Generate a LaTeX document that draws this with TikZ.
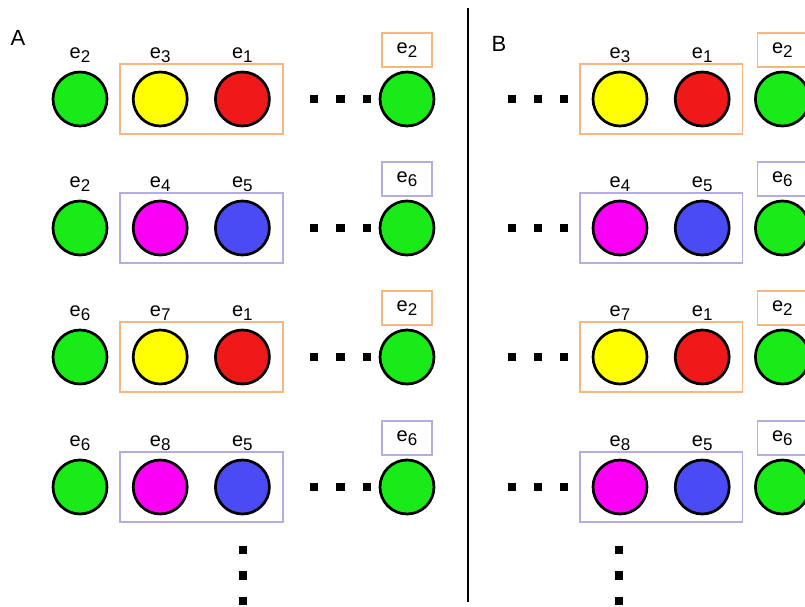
\documentclass[tikz,border=0pt]{standalone}
\usepackage{fontspec}
\setmainfont{Liberation Sans}
\usetikzlibrary{positioning,fit}

\definecolor{grn}{RGB}{25,235,25}
\definecolor{yel}{RGB}{255,255,0}
\definecolor{rd}{RGB}{240,25,25}
\definecolor{mag}{RGB}{250,0,245}
\definecolor{blu}{RGB}{75,75,245}
\definecolor{ora}{RGB}{245,182,128}
\definecolor{lav}{RGB}{182,172,228}
\newcommand{\ename}[1]{e\raisebox{-4pt}{\fontsize{17}{17}\selectfont #1}}

\begin{document}
\begin{tikzpicture}[x=1pt,y=-1pt,
	ball/.style={circle,draw=black,line width=2.7pt,minimum size=54pt,inner sep=0pt},
	lab/.style={anchor=base,inner sep=0pt,font=\fontsize{20}{21}\selectfont},
	tagbox/.style={draw=#1,line width=1.8pt,minimum width=50pt,minimum height=34pt,inner sep=0pt,font=\fontsize{20}{21}\selectfont},
	grp/.style={draw=#1,line width=1.8pt,inner xsep=12pt,inner ysep=7pt},
	sq/.style={fill=black,minimum size=8.5pt,inner sep=0pt},
	panel/.style={inner sep=0pt,font=\fontsize{22}{24}\selectfont}]
\clip (0,0) rectangle (805,607);
\node [panel] (pa) at (18,37.5) {A};
\node [panel] (pb) at (499,44) {B};
\coordinate (top) at (468,8);
\coordinate (bot) at (468,602);
\draw [line width=2pt] (top) -- (bot);

% panel A, row 1
\node [ball,fill=grn] (a10) at (80,99) {};
\node [ball,fill=yel,right=23.5pt of a10] (a11) {};
\node [ball,fill=rd,right=25.5pt of a11] (a12) {};
\node [sq,right=38.75pt of a12] (d11) {};
\node [sq,right=17.5pt of d11] (d12) {};
\node [sq,right=17.5pt of d12] (d13) {};
\node [ball,fill=grn] (a13) at (407,99) {};
\node [grp=ora,fit=(a11)(a12)] (f1) {};
\node [above=12pt of a10,lab] (l10) {\ename{2}};
\node [above=12pt of a11,lab] (l11) {\ename{3}};
\node [above=12pt of a12,lab] (l12) {\ename{1}};
\node [tagbox=ora,above=3pt of a13] (t1) {\ename{2}};

% panel A, row 2
\node [ball,fill=grn] (a20) at (80,228) {};
\node [ball,fill=mag,right=23.5pt of a20] (a21) {};
\node [ball,fill=blu,right=25.5pt of a21] (a22) {};
\node [sq,right=38.75pt of a22] (d21) {};
\node [sq,right=17.5pt of d21] (d22) {};
\node [sq,right=17.5pt of d22] (d23) {};
\node [ball,fill=grn] (a23) at (407,228) {};
\node [grp=lav,fit=(a21)(a22)] (f2) {};
\node [above=12pt of a20,lab] (l20) {\ename{2}};
\node [above=12pt of a21,lab] (l21) {\ename{4}};
\node [above=12pt of a22,lab] (l22) {\ename{5}};
\node [tagbox=lav,above=3pt of a23] (t2) {\ename{6}};

% panel A, row 3
\node [ball,fill=grn] (a30) at (80,357) {};
\node [ball,fill=yel,right=23.5pt of a30] (a31) {};
\node [ball,fill=rd,right=25.5pt of a31] (a32) {};
\node [sq,right=38.75pt of a32] (d31) {};
\node [sq,right=17.5pt of d31] (d32) {};
\node [sq,right=17.5pt of d32] (d33) {};
\node [ball,fill=grn] (a33) at (407,357) {};
\node [grp=ora,fit=(a31)(a32)] (f3) {};
\node [above=12pt of a30,lab] (l30) {\ename{6}};
\node [above=12pt of a31,lab] (l31) {\ename{7}};
\node [above=12pt of a32,lab] (l32) {\ename{1}};
\node [tagbox=ora,above=3pt of a33] (t3) {\ename{2}};

% panel A, row 4
\node [ball,fill=grn] (a40) at (80,487) {};
\node [ball,fill=mag,right=23.5pt of a40] (a41) {};
\node [ball,fill=blu,right=25.5pt of a41] (a42) {};
\node [sq,right=38.75pt of a42] (d41) {};
\node [sq,right=17.5pt of d41] (d42) {};
\node [sq,right=17.5pt of d42] (d43) {};
\node [ball,fill=grn] (a43) at (407,487) {};
\node [grp=lav,fit=(a41)(a42)] (f4) {};
\node [above=12pt of a40,lab] (l40) {\ename{6}};
\node [above=12pt of a41,lab] (l41) {\ename{8}};
\node [above=12pt of a42,lab] (l42) {\ename{5}};
\node [tagbox=lav,above=3pt of a43] (t4) {\ename{6}};

\node [sq] (v1) at (243,550) {};
\node [sq,below=16.5pt of v1] (v2) {};
\node [sq,below=16.5pt of v2] (v3) {};

% panel B, row 1
\node [sq] (e11) at (512,99) {};
\node [sq,right=17pt of e11] (e12) {};
\node [sq,right=17pt of e12] (e13) {};
\node [ball,fill=yel] (b11) at (620,99) {};
\node [ball,fill=rd,right=25.5pt of b11] (b12) {};
\node [ball,fill=grn,right=23.5pt of b12] (b13) {};
\node [grp=ora,fit=(b11)(b12)] (g1) {};
\node [above=12pt of b11,lab] (m11) {\ename{3}};
\node [above=12pt of b12,lab] (m12) {\ename{1}};
\node [tagbox=ora,above=3pt of b13] (u1) {\ename{2}};

% panel B, row 2
\node [sq] (e21) at (512,228) {};
\node [sq,right=17pt of e21] (e22) {};
\node [sq,right=17pt of e22] (e23) {};
\node [ball,fill=mag] (b21) at (620,228) {};
\node [ball,fill=blu,right=25.5pt of b21] (b22) {};
\node [ball,fill=grn,right=23.5pt of b22] (b23) {};
\node [grp=lav,fit=(b21)(b22)] (g2) {};
\node [above=12pt of b21,lab] (m21) {\ename{4}};
\node [above=12pt of b22,lab] (m22) {\ename{5}};
\node [tagbox=lav,above=3pt of b23] (u2) {\ename{6}};

% panel B, row 3
\node [sq] (e31) at (512,357) {};
\node [sq,right=17pt of e31] (e32) {};
\node [sq,right=17pt of e32] (e33) {};
\node [ball,fill=yel] (b31) at (620,357) {};
\node [ball,fill=rd,right=25.5pt of b31] (b32) {};
\node [ball,fill=grn,right=23.5pt of b32] (b33) {};
\node [grp=ora,fit=(b31)(b32)] (g3) {};
\node [above=12pt of b31,lab] (m31) {\ename{7}};
\node [above=12pt of b32,lab] (m32) {\ename{1}};
\node [tagbox=ora,above=3pt of b33] (u3) {\ename{2}};

% panel B, row 4
\node [sq] (e41) at (512,487) {};
\node [sq,right=17pt of e41] (e42) {};
\node [sq,right=17pt of e42] (e43) {};
\node [ball,fill=mag] (b41) at (620,487) {};
\node [ball,fill=blu,right=25.5pt of b41] (b42) {};
\node [ball,fill=grn,right=23.5pt of b42] (b43) {};
\node [grp=lav,fit=(b41)(b42)] (g4) {};
\node [above=12pt of b41,lab] (m41) {\ename{8}};
\node [above=12pt of b42,lab] (m42) {\ename{5}};
\node [tagbox=lav,above=3pt of b43] (u4) {\ename{6}};

\node [sq] (w1) at (619,550) {};
\node [sq,below=16.5pt of w1] (w2) {};
\node [sq,below=16.5pt of w2] (w3) {};
\end{tikzpicture}
\end{document}
